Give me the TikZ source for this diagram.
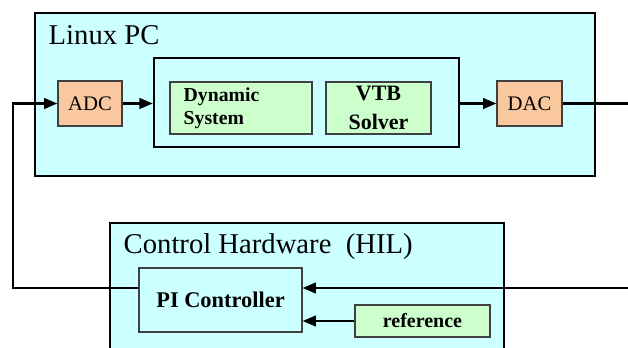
\documentclass[tikz,border=0pt]{standalone}
\usepackage{fontspec}
\setmainfont{Liberation Serif}
\usetikzlibrary{arrows.meta,calc}

\definecolor{pccyan}{HTML}{CCFFFF}
\definecolor{convorange}{HTML}{F9C89E}
\definecolor{blockgreen}{HTML}{CCFFCC}

\tikzset{
    unit/.style={draw=black, line width=1.8pt, fill=pccyan},
    conv/.style={draw=black!75, line width=0.9pt, fill=convorange, font=\fontsize{15.5}{17}\selectfont},
    block/.style={draw=black!75, line width=0.9pt, fill=blockgreen, font=\bfseries\fontsize{15}{17}\selectfont},
    wire/.style={black, line width=1.6pt, -{Triangle[length=10pt, width=8pt]}},
}

\begin{document}
\begin{tikzpicture}[x=0.75pt, y=-0.75pt]
        \clip (0,0) rectangle (628,347);
        \fill[white] (0,0) rectangle (628,347);

        % simulator side
        \node[unit, minimum width=420pt, minimum height=122pt] (pc) at (315,94.5) {};
        \node[anchor=base west, font=\fontsize{21.5}{24}\selectfont] (pclabel) at (44,44) {Linux PC};
        \node[unit, minimum width=228.75pt, minimum height=66.75pt] (sim) at (306.5,102.5) {};
        \node[block, minimum width=106.5pt, minimum height=39pt, align=left, text width=86pt] (dyn) at (241,108)
            {\fontsize{14.8}{19}\selectfont Dynamic\\System};
        \node[block, minimum width=78.75pt, minimum height=39pt, align=center, font=\bfseries\fontsize{16.5}{21.5}\selectfont] (vtb) at (378.5,108)
            {VTB\\Solver};
        \node[conv, minimum width=48pt, minimum height=33.75pt] (adc) at (90,103.5) {ADC};
        \node[conv, minimum width=48.75pt, minimum height=33.75pt] (dac) at (529.5,103.5) {DAC};

        % hardware side
        \node[unit, minimum width=295.5pt, minimum height=106.5pt] (hil) at (307,294) {};
        \node[anchor=base west, font=\fontsize{21.5}{24}\selectfont] (hillabel) at (119,253) {Control Hardware~~(HIL)};
        \node[draw=black!75, line width=0.9pt, fill=pccyan, minimum width=122.25pt, minimum height=48pt,
            font=\bfseries\fontsize{16.8}{19}\selectfont] (pi) at (220.5,300) {PI Controller};
        \node[block, minimum width=101.25pt, minimum height=24pt, font=\bfseries\fontsize{15}{16}\selectfont] (ref) at (422.5,321) {reference};

        \coordinate (piin) at ($(pi.north west)!0.31!(pi.south west)$);
        \coordinate (fb) at (13,103.5);
        \coordinate (out) at (628,103.5);
        \coordinate (meas) at (628,288);

        % signal flow
        \draw[wire] (adc.east) -- (adc.east -| sim.west);
        \draw[wire] (dac.west -| sim.east) -- (dac.west);
        \draw[wire, -] (dac.east) -- (out);
        \draw[wire] (piin) -| (fb) -- (adc.west);
        \draw[wire] (meas) -- (meas -| pi.east);
        \draw[wire] (ref.west) -- (ref.west -| pi.east);
\end{tikzpicture}
\end{document}
